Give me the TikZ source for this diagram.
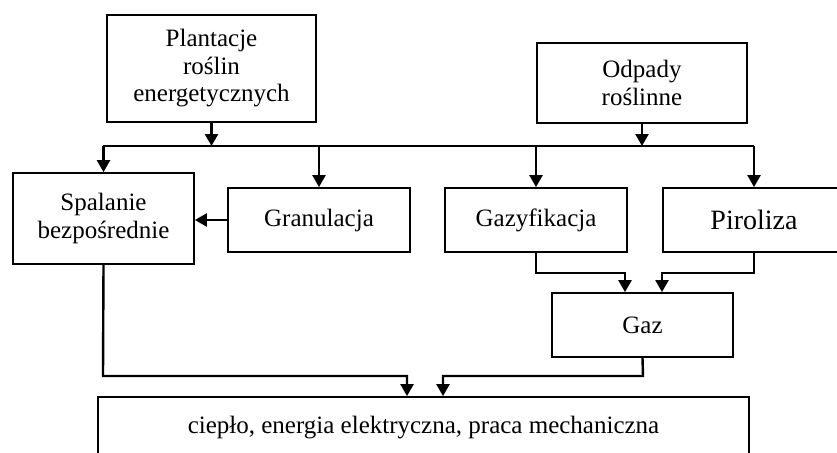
\documentclass[tikz,border=0pt]{standalone}
\usepackage{fontspec}
\setmainfont{Liberation Serif}
\usetikzlibrary{arrows.meta}
\begin{document}
\begin{tikzpicture}[x=1pt,y=-1pt,
  box/.style={draw,line width=1.8pt,rectangle,inner sep=0pt,align=center,
    font=\fontsize{25}{27.5}\selectfont},
  conn/.style={line width=2.4pt},
  arr/.style={conn,-{Triangle[length=12pt,width=13pt]}}]
\clip (0,0) rectangle (837,452);
\fill[white] (0,0) rectangle (837,452);
% nodes
\node[box,minimum width=209pt,minimum height=107pt] (plant) at (211.5,68.5) {Plantacje\\roślin\\energetycznych};
\node[box,minimum width=210pt,minimum height=80pt] (odp) at (642,83) {Odpady\\roślinne};
\node[box,minimum width=181pt,minimum height=91pt] (spal) at (103.5,218.5) {Spalanie\\bezpośrednie};
\node[box,minimum width=182pt,minimum height=64pt] (gran) at (319,220) {Granulacja};
\node[box,minimum width=182pt,minimum height=64pt] (gazy) at (536,220) {Gazyfikacja};
\node[box,minimum width=182pt,minimum height=64pt,font=\fontsize{28}{30}\selectfont] (pir) at (754,220) {Piroliza};
\node[box,minimum width=181pt,minimum height=64pt] (gaz) at (642.5,325) {Gaz};
\node[box,minimum width=651pt,minimum height=62pt] (out) at (423.5,428) {ciepło, energia elektryczna, praca mechaniczna};
% bus coordinates
\coordinate (busL) at (103,146);
\coordinate (busR) at (754,146);
\coordinate (gz1) at (536,273);
\coordinate (gz2) at (625,273);
\coordinate (pr1) at (754,273);
\coordinate (pr2) at (662,273);
\coordinate (g1) at (643,376);
\coordinate (g2) at (443,376);
\coordinate (s1) at (103,376);
\coordinate (s2) at (407,376);
% connectors
\draw[conn] (busL) -- (busR);
\draw[arr] (plant.south) -- (plant.south |- busL);
\draw[arr] (odp.south) -- (odp.south |- busL);
\draw[arr] (spal.north |- busL) -- (spal.north);
\draw[arr] (gran.north |- busL) -- (gran.north);
\draw[arr] (gazy.north |- busL) -- (gazy.north);
\draw[arr] (pir.north |- busL) -- (pir.north);
\draw[arr] (gran.west) -- (spal.east |- gran.west);
\draw[arr] (gazy.south) -- (gz1) -- (gz2) -- (gz2 |- gaz.north);
\draw[arr] (pir.south) -- (pr1) -- (pr2) -- (pr2 |- gaz.north);
\draw[arr] (gaz.south) -- (g1) -- (g2) -- (g2 |- out.north);
\draw[arr] (spal.south) -- (s1) -- (s2) -- (s2 |- out.north);
\end{tikzpicture}
\end{document}
